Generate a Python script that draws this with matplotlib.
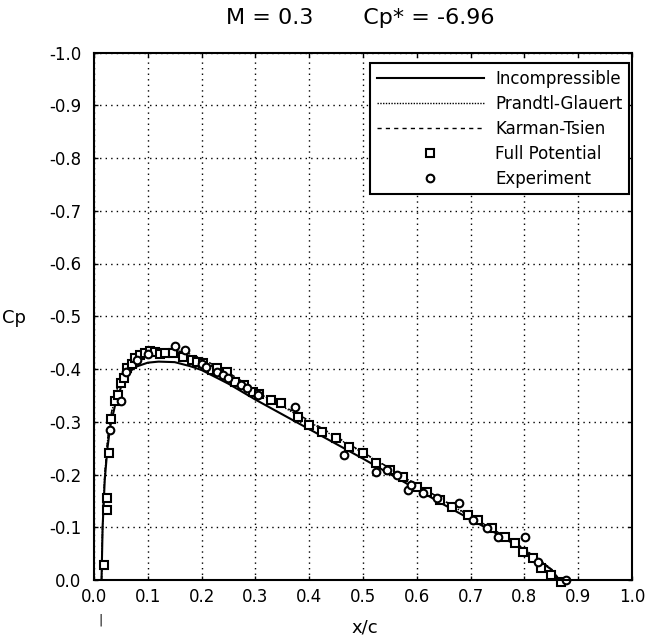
import matplotlib
matplotlib.use("Agg")
import matplotlib.pyplot as plt

plt.rcParams['font.family'] = ['DejaVu Sans']
plt.rcParams['axes.unicode_minus'] = False

title_text = "M = 0.3       Cp* = -6.96"
xlabel_text = "x/c"
ylabel_text = "Cp"

x_ticks = [0.0, 0.1, 0.2, 0.3, 0.4, 0.5, 0.6, 0.7, 0.8, 0.9, 1.0]
y_ticks = [0.0, -0.1, -0.2, -0.3, -0.4, -0.5, -0.6, -0.7, -0.8, -0.9, -1.0]

# Theory curves
x_line = [0.014, 0.016, 0.020, 0.025, 0.030, 0.040, 0.050, 0.060, 0.070, 0.080,
          0.100, 0.120, 0.150, 0.180, 0.200, 0.250, 0.300, 0.350, 0.400, 0.450,
          0.500, 0.550, 0.600, 0.650, 0.700, 0.750, 0.800, 0.850, 0.865]
cp_incomp = [0.0, -0.10, -0.19, -0.25, -0.29, -0.335, -0.365, -0.385, -0.398, -0.405,
             -0.412, -0.414, -0.413, -0.405, -0.398, -0.372, -0.342, -0.314, -0.286, -0.258,
             -0.230, -0.201, -0.172, -0.143, -0.115, -0.087, -0.056, -0.020, 0.0]
cp_pg = [0.0, -0.105, -0.20, -0.262, -0.304, -0.351, -0.383, -0.403, -0.417, -0.424,
         -0.432, -0.434, -0.433, -0.424, -0.417, -0.390, -0.358, -0.329, -0.300, -0.270,
         -0.241, -0.211, -0.180, -0.150, -0.120, -0.091, -0.059, -0.021, 0.0]
cp_kt = [0.0, -0.106, -0.201, -0.264, -0.306, -0.354, -0.386, -0.406, -0.420, -0.428,
         -0.435, -0.437, -0.436, -0.428, -0.420, -0.393, -0.361, -0.331, -0.302, -0.272,
         -0.242, -0.212, -0.181, -0.151, -0.121, -0.091, -0.059, -0.021, 0.0]

# Full potential (squares)
x_fp = [0.019, 0.024, 0.024, 0.027, 0.031, 0.039, 0.045, 0.051, 0.055, 0.061,
        0.070, 0.076, 0.085, 0.095, 0.104, 0.113, 0.123, 0.132, 0.147, 0.166,
        0.182, 0.191, 0.203, 0.219, 0.229, 0.247, 0.262, 0.279, 0.296, 0.307,
        0.329, 0.348, 0.379, 0.399, 0.424, 0.449, 0.474, 0.500, 0.524, 0.550,
        0.575, 0.600, 0.619, 0.644, 0.666, 0.695, 0.714, 0.739, 0.764, 0.783,
        0.798, 0.816, 0.831, 0.850, 0.868]
cp_fp = [-0.028, -0.133, -0.155, -0.240, -0.305, -0.340, -0.350, -0.373, -0.383, -0.402,
         -0.410, -0.420, -0.426, -0.430, -0.434, -0.432, -0.428, -0.430, -0.430, -0.423,
         -0.417, -0.413, -0.412, -0.398, -0.401, -0.394, -0.376, -0.370, -0.357, -0.352,
         -0.341, -0.335, -0.309, -0.294, -0.281, -0.269, -0.252, -0.240, -0.222, -0.209,
         -0.196, -0.177, -0.167, -0.152, -0.139, -0.123, -0.114, -0.099, -0.082, -0.070,
         -0.053, -0.042, -0.023, -0.010, 0.004]

# Experiment (circles)
x_exp = [0.030, 0.051, 0.060, 0.080, 0.100, 0.151, 0.169, 0.200, 0.209, 0.228,
         0.240, 0.249, 0.274, 0.284, 0.305, 0.374, 0.465, 0.524, 0.544, 0.563,
         0.584, 0.590, 0.612, 0.637, 0.679, 0.705, 0.730, 0.751, 0.801, 0.825,
         0.877]
cp_exp = [-0.285, -0.340, -0.395, -0.418, -0.428, -0.443, -0.436, -0.410, -0.404, -0.394,
          -0.389, -0.383, -0.370, -0.364, -0.350, -0.328, -0.237, -0.205, -0.209, -0.199,
          -0.171, -0.180, -0.165, -0.155, -0.146, -0.114, -0.099, -0.082, -0.082, -0.034,
          0.0]

labels = ["Incompressible", "Prandtl-Glauert", "Karman-Tsien", "Full Potential", "Experiment"]

fig = plt.figure(figsize=(6.48, 6.44), dpi=100)
L, R, T, B = 94, 632, 52.5, 580
W, H = 648, 644
ax = fig.add_axes([L / W, 1 - B / H, (R - L) / W, (B - T) / H])

ax.plot(x_line, cp_incomp, color='black', lw=1.5, ls='-', label=labels[0])
ax.plot(x_line, cp_pg, color='black', lw=1.0, ls=(0, (1, 1)), label=labels[1])
ax.plot(x_line, cp_kt, color='black', lw=1.0, ls=(0, (3, 3)), label=labels[2])
ax.plot(x_fp, cp_fp, ls='none', marker='s', ms=6.0, mfc='white', mec='black', mew=1.5,
        label=labels[3], clip_on=False)
ax.plot(x_exp, cp_exp, ls='none', marker='o', ms=5.5, mfc='white', mec='black', mew=1.5,
        label=labels[4], clip_on=False)

ax.set_xlim(0.0, 1.0)
ax.set_ylim(0.0, -1.0)
ax.set_xticks(x_ticks)
ax.set_yticks(y_ticks)
ax.set_xticklabels(["%.1f" % v for v in x_ticks])
ax.set_yticklabels(["%.1f" % v if v != 0 else "0.0" for v in y_ticks])
ax.tick_params(direction='in', length=3, width=1, top=True, right=True,
               labelsize=12, colors='black')
ax.tick_params(axis='x', pad=6)
ax.tick_params(axis='y', pad=9)
ax.grid(True, color='black', lw=1.0, ls=(0, (1, 3)))
for s in ax.spines.values():
    s.set_linewidth(1.5)
    s.set_color('black')

leg = ax.legend(loc='upper right', bbox_to_anchor=(0.995, 0.98), borderaxespad=0,
                fontsize=12, handlelength=6.4, handletextpad=0.7, labelspacing=0.42,
                fancybox=False, framealpha=1, edgecolor='black', borderpad=0.4,
                markerscale=1.0)
leg.get_frame().set_linewidth(1.5)

fig.text(360 / W, 1 - 18 / H, title_text, ha='center', va='center', fontsize=16)
fig.text(365 / W, 1 - 628 / H, xlabel_text, ha='center', va='center', fontsize=13)
fig.text(2 / W, 1 - 318 / H, ylabel_text, ha='left', va='center', fontsize=13)
fig.text(101 / W, 1 - 620 / H, "|", ha='center', va='center', fontsize=9)

fig.savefig("out.png", dpi=100)
